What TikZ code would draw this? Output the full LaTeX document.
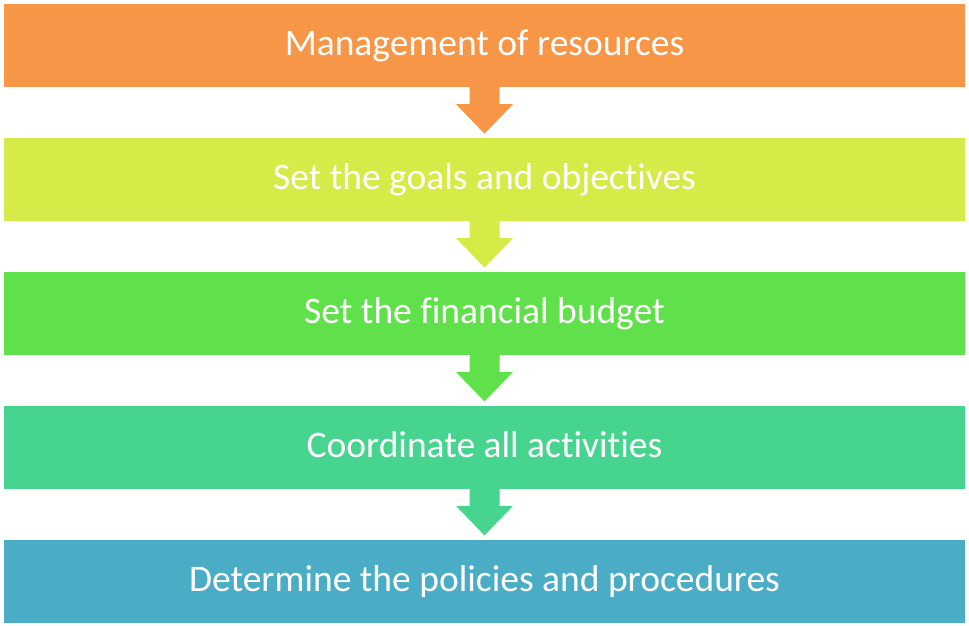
\documentclass[tikz,border=0pt]{standalone}
\usepackage{fontspec}
\setmainfont[Ligatures=NoCommon]{Carlito}
\usepackage{xcolor}
\usetikzlibrary{positioning,calc}
\definecolor{cOrange}{HTML}{F79646}
\definecolor{cLime}{HTML}{D5EB47}
\definecolor{cGreen}{HTML}{60E14B}
\definecolor{cTeal}{HTML}{47D48F}
\definecolor{cBlue}{HTML}{4AACC5}
\tikzset{blk/.style={minimum width=961pt, minimum height=83pt, inner sep=0pt,
  text height=25pt, text depth=4pt, text=white, font=\fontsize{37.5}{42}\selectfont}}

\begin{document}
\begin{tikzpicture}[x=1pt,y=1pt]
\useasboundingbox (0,0) rectangle (969,626);
% блоки
\node [blk, fill=cOrange] (b1) at (484.5,580.5) {Management of resources};
\node [blk, fill=cLime, below=50.5pt of b1] (b2) {Set the goals and objectives};
\node [blk, fill=cGreen, below=50.5pt of b2] (b3) {Set the financial budget};
\node [blk, fill=cTeal, below=50.5pt of b3] (b4) {Coordinate all activities};
\node [blk, fill=cBlue, below=50.5pt of b4] (b5) {Determine the policies and procedures};
% стрелки
\foreach \a/\b/\c in {b1/b2/cOrange, b2/b3/cLime, b3/b4/cGreen, b4/b5/cTeal}
  \fill [\c] ($(\a.south)+(-15,0)$) -- ++(0,-17) -- ++(-13.5,0) -- ($(\b.north)+(0,4)$)
    -- ($(\a.south)+(28.5,-17)$) -- ++(-13.5,0) -- ($(\a.south)+(15,0)$) -- cycle;
\end{tikzpicture}
\end{document}
